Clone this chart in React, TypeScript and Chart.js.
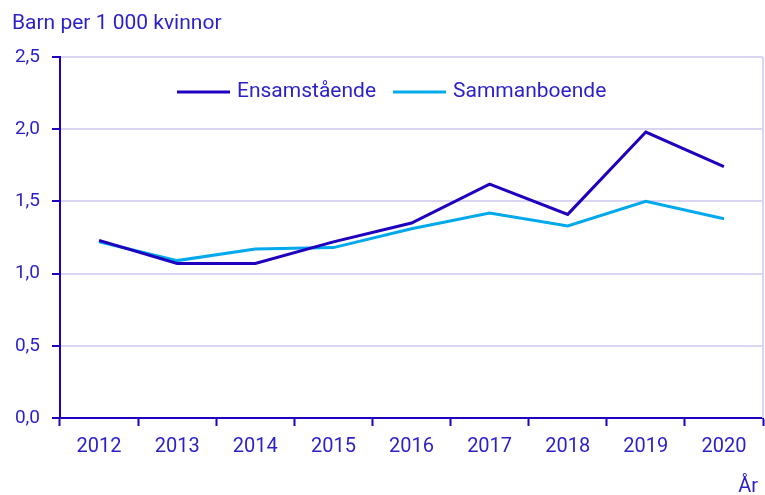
import React, { useEffect, useRef } from "react";
import { Chart, registerables } from "chart.js";

Chart.register(...registerables);

const years = ["2012", "2013", "2014", "2015", "2016", "2017", "2018", "2019", "2020"];
const ensamstaende = [1.23, 1.07, 1.07, 1.22, 1.35, 1.62, 1.41, 1.98, 1.74];
const sammanboende = [1.22, 1.09, 1.17, 1.18, 1.31, 1.42, 1.33, 1.5, 1.38];
const yTitle = "Barn per 1 000 kvinnor";
const xTitle = "År";

const DARK = "#1e00be";
const LIGHT = "#00a8ec";
const TEXT = "#2b1fc8";
const GRID = "#d8d6f0";
const FONT = "Roboto";

const overlayPlugin = {
  id: "overlay",
  afterDraw(chart: any) {
    const ctx = chart.ctx;
    const area = chart.chartArea;
    ctx.save();
    // right border
    ctx.strokeStyle = GRID;
    ctx.lineWidth = 2;
    ctx.beginPath();
    ctx.moveTo(area.right, area.top);
    ctx.lineTo(area.right, area.bottom);
    ctx.stroke();
    // y title
    ctx.fillStyle = TEXT;
    ctx.font = `21px ${FONT}`;
    ctx.textBaseline = "alphabetic";
    ctx.textAlign = "left";
    ctx.fillText(yTitle, 12, 29);
    // x title
    ctx.font = `20px ${FONT}`;
    ctx.textAlign = "right";
    ctx.fillText(xTitle, 758, 492);
    // legend
    const items = chart.data.datasets.map((d: any) => ({ label: d.label, color: d.borderColor }));
    const lineW = 53;
    const gap = 7;
    const itemGap = 17;
    ctx.font = `21px ${FONT}`;
    ctx.textAlign = "left";
    ctx.textBaseline = "middle";
    const widths = items.map((it: any) => lineW + gap + ctx.measureText(it.label).width);
    let x = 177;
    const y = 92;
    items.forEach((it: any, i: number) => {
      ctx.strokeStyle = it.color;
      ctx.lineWidth = 3;
      ctx.beginPath();
      ctx.moveTo(x, y);
      ctx.lineTo(x + lineW, y);
      ctx.stroke();
      ctx.fillStyle = TEXT;
      ctx.fillText(it.label, x + lineW + gap, y);
      x += widths[i] + itemGap;
    });
    ctx.restore();
  },
};

export default function App() {
  const ref = useRef<HTMLCanvasElement | null>(null);
  useEffect(() => {
    document.body.style.margin = "0";
    const chart = new Chart(ref.current as HTMLCanvasElement, {
      type: "line",
      data: {
        labels: years,
        datasets: [
          { label: "Ensamstående", data: ensamstaende, borderColor: DARK, backgroundColor: DARK, borderWidth: 3, pointRadius: 0, tension: 0 },
          { label: "Sammanboende", data: sammanboende, borderColor: LIGHT, backgroundColor: LIGHT, borderWidth: 3, pointRadius: 0, tension: 0 },
        ],
      },
      options: {
        animation: false,
        responsive: false,
        maintainAspectRatio: false,
        layout: { padding: { top: 57, right: 2, left: 0, bottom: 0 } },
        plugins: { legend: { display: false }, title: { display: false }, tooltip: { enabled: false } },
        scales: {
          x: {
            offset: true,
            grid: { display: true, drawOnChartArea: false, offset: true, tickColor: DARK, tickLength: 8, tickWidth: 2 },
            border: { color: DARK, width: 2 },
            ticks: { color: TEXT, font: { family: FONT, size: 20 }, padding: 9, maxRotation: 0, autoSkip: false },
            afterFit(scale: any) { scale.height = 77; },
          },
          y: {
            min: 0,
            max: 2.5,
            ticks: {
              stepSize: 0.5,
              color: TEXT,
              font: { family: FONT, size: 19 },
              padding: 12,
              callback: (v: any) => Number(v).toFixed(1).replace(".", ","),
            },
            grid: { color: GRID, lineWidth: 2, tickColor: DARK, tickLength: 8, tickWidth: 2 },
            border: { color: DARK, width: 2 },
            afterFit(scale: any) { scale.width = 60; },
          },
        },
      },
      plugins: [overlayPlugin],
    });
    return () => chart.destroy();
  }, []);
  return (
    <div style={{ width: 765, height: 495 }}>
      <canvas ref={ref} width={765} height={495} style={{ display: "block" }} />
    </div>
  );
}
